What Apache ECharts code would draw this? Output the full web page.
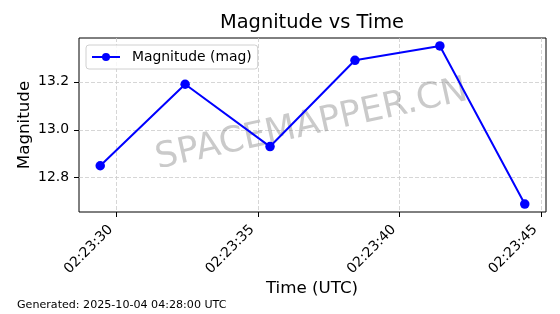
<!DOCTYPE html>
<html><head><meta charset="utf-8">
<script src="https://cdn.jsdelivr.net/npm/echarts@6/dist/echarts.min.js"></script>
<style>html,body{margin:0;padding:0;background:#fff}#c{width:560px;height:314px}</style>
</head><body><div id="c"></div>
<script>
// ---- data ----
const timeStamps = ['02:23:29.43','02:23:32.43','02:23:35.43','02:23:38.43','02:23:41.43','02:23:44.43'];
const magnitudes = [12.85, 13.19, 12.93, 13.29, 13.35, 12.69];
const xTickLabels = ['02:23:30','02:23:35','02:23:40','02:23:45'];
const yTickValues = [12.8, 13.0, 13.2];
const seriesName = 'Magnitude (mag)';
const titleText = 'Magnitude vs Time';
const xName = 'Time (UTC)';
const yName = 'Magnitude';
const footerText = 'Generated: 2025-10-04 04:28:00 UTC';
const watermarkText = 'SPACEMAPPER.CN';

function toSec(s){const p=s.split(':');return (+p[0])*3600+(+p[1])*60+(+p[2]);}
function fmt(v){
  const t=Math.round(v);const h=Math.floor(t/3600),m=Math.floor((t%3600)/60),s=t%60;
  const p=n=>String(n).padStart(2,'0');return p(h)+':'+p(m)+':'+p(s);
}
const xs = timeStamps.map(toSec);
const xTicks = xTickLabels.map(toSec);
const pts = xs.map((x,i)=>[x,magnitudes[i]]);
function pad(arr){const lo=Math.min(...arr),hi=Math.max(...arr),d=(hi-lo)*0.05;return [lo-d,hi+d];}
const [xMin,xMax]=pad(xs), [yMin,yMax]=pad(magnitudes);

const FF='DejaVu Sans';
const chart = echarts.init(document.getElementById('c'), null, {renderer:'canvas'});
chart.setOption({
  animation:false,
  backgroundColor:'#fff',
  grid:{left:79,top:38,right:14,bottom:102,show:true,borderColor:'#000',borderWidth:1,backgroundColor:'transparent'},
  xAxis:{type:'value',min:xMin,max:xMax,
    axisLine:{show:false},
    axisTick:{show:true,inside:false,length:5,lineStyle:{color:'#000',width:1},customValues:xTicks},
    axisLabel:{customValues:xTicks,formatter:v=>fmt(v),rotate:45,margin:9.7,padding:[0,8,0,0],
      fontSize:13.9,fontFamily:FF,color:'#000'},
    splitLine:{show:true,lineStyle:{color:'#cccccc',width:0.8,type:[4,2]}}
  },
  yAxis:{type:'value',min:yMin,max:yMax,
    axisLine:{show:false},
    axisTick:{show:true,inside:false,length:5,lineStyle:{color:'#000',width:1},customValues:yTickValues},
    axisLabel:{customValues:yTickValues,formatter:v=>v.toFixed(1),margin:10,
      fontSize:13.9,fontFamily:FF,color:'#000'},
    splitLine:{show:true,lineStyle:{color:'#cccccc',width:0.8,type:[4,2]}}
  },
  legend:{show:true,left:86,top:45,orient:'vertical',itemWidth:28,itemHeight:10,
    padding:[5,6,5,5],borderColor:'#d0d0d0',borderWidth:1,borderRadius:3,backgroundColor:'rgba(255,255,255,0.8)',
    textStyle:{fontSize:13.9,fontFamily:FF,color:'#000',padding:[0,0,0,7]},
    data:[seriesName]},
  series:[{name:seriesName,type:'line',data:pts,symbol:'circle',symbolSize:9.5,showSymbol:true,
    itemStyle:{color:'#0000ff'},lineStyle:{color:'#0000ff',width:2},z:5}],
  graphic:[
    {type:'text',x:311.5,y:125,rotation:12.5*Math.PI/180,z:1,silent:true,
      style:{text:watermarkText,fontSize:35.5,fontFamily:FF,fill:'rgba(128,128,128,0.42)',align:'center',verticalAlign:'middle'}},
    {type:'text',x:312,y:23,style:{text:titleText,fontSize:19.4,fontFamily:FF,fill:'#000',align:'center',verticalAlign:'middle'}},
    {type:'text',x:312,y:289,style:{text:xName,fontSize:16.7,fontFamily:FF,fill:'#000',align:'center',verticalAlign:'middle'}},
    {type:'text',x:25,y:125,rotation:Math.PI/2,style:{text:yName,fontSize:16.7,fontFamily:FF,fill:'#000',align:'center',verticalAlign:'middle'}},
    {type:'text',x:17,y:305.5,style:{text:footerText,fontSize:11.1,fontFamily:FF,fill:'#000',align:'left',verticalAlign:'middle'}}
  ]
});
</script></body></html>
